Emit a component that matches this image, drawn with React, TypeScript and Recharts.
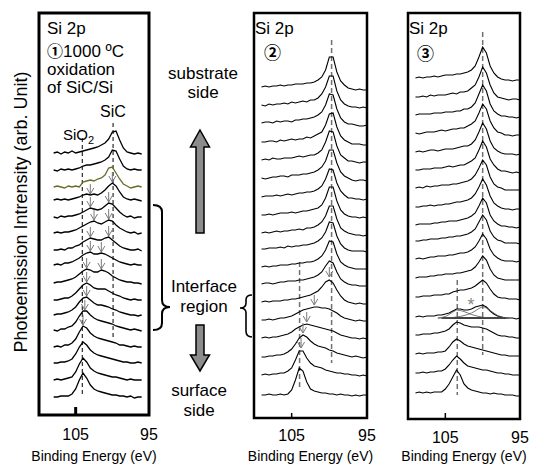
import React from 'react';
import { ComposedChart, Line, XAxis, YAxis, ReferenceLine, ReferenceArea, Scatter } from 'recharts';

const FONT = '"Liberation Sans", Arial, Helvetica, sans-serif';
const CJK = '"Noto Sans CJK JP", "Noto Sans CJK SC", sans-serif';

// ---------- Panel 1 : 1000 ºC oxidation of SiC/Si ----------
const energyP1 = [108, 107.5, 107, 106.5, 106, 105.5, 105, 104.5, 104, 103.5, 103, 102.5, 102, 101.5, 101, 100.5, 100, 99.5, 99, 98.5, 98, 97.5, 97, 96.5, 96];
const offsetP1 = [262, 245, 228, 215, 198, 182, 165, 150, 132, 115, 100, 85, 68, 52, 35, 18];
const rowsP1 = [
  [0, 1, -1, 1, 0, 2, 0, 1, 2, 3, 4, 5, 6, 8, 10, 14, 21, 22, 13, 5, 1, 0, -1, 0, -1],
  [0, -1, 1, 0, 1, 0, 1, 2, 4, 5, 5, 6, 7, 8, 10, 13, 20, 19, 11, 4, 1, 0, 1, 0, 0],
  [0, 1, 0, -1, 1, 0, 1, 0, 5, 6, 7, 6, 8, 9, 12, 19, 20, 14, 8, 3, 1, -1, 0, 1, 0],
  [0, 1, 0, 1, 0, 1, 2, 3, 5, 6, 5, 6, 5, 7, 10, 14, 17, 14, 8, 3, 1, 0, 1, 0, -1],
  [0, -1, 1, 0, 1, 1, 2, 3, 5, 7, 9, 8, 7, 8, 11, 14, 13, 9, 5, 2, 0, 1, -1, 0, 0],
  [0, 1, 0, 1, 1, 2, 3, 5, 7, 9, 11, 12, 10, 9, 11, 13, 12, 8, 5, 3, 1, 0, 1, -1, 0],
  [0, 0, 1, 0, 2, 2, 4, 5, 8, 10, 12, 11, 10, 10, 12, 13, 10, 7, 4, 2, 1, 0, 0, 1, -1],
  [0, 1, 0, 2, 2, 3, 5, 7, 10, 12, 13, 11, 11, 12, 11, 9, 7, 5, 3, 2, 1, 0, 1, 0, 0],
  [0, 1, 1, 2, 3, 4, 6, 9, 12, 14, 13, 11, 11, 13, 12, 10, 7, 5, 3, 2, 1, 1, 0, 0, -1],
  [0, 0, 1, 2, 2, 4, 7, 11, 15, 17, 15, 12, 11, 11, 11, 9, 7, 5, 4, 2, 1, 0, 1, 0, 0],
  [0, 1, 1, 2, 3, 5, 8, 13, 17, 18, 15, 12, 10, 10, 9, 8, 6, 5, 3, 2, 1, 0, 0, -1, 0],
  [0, -1, 1, 1, 3, 4, 8, 14, 19, 19, 15, 12, 10, 9, 8, 7, 6, 4, 3, 2, 1, 0, 1, 0, -1],
  [0, 1, 0, 2, 2, 4, 8, 15, 21, 19, 14, 11, 9, 8, 7, 6, 5, 4, 2, 2, 1, 0, 1, 0, 0],
  [0, 0, 1, 1, 2, 4, 9, 16, 21, 18, 13, 10, 8, 7, 6, 5, 4, 3, 2, 1, 1, 0, 0, 1, 0],
  [0, 1, 0, 1, 2, 3, 8, 16, 22, 18, 12, 9, 7, 6, 5, 4, 3, 3, 2, 1, 0, 1, 0, 0, 0],
  [0, 0, 1, 1, 1, 3, 8, 17, 24, 19, 12, 8, 6, 5, 4, 3, 2, 2, 1, 1, 0, 1, -1, 0, 0],
];
const arrowsP1 = [
  { e: 103, y: 221 }, { e: 100, y: 233 },
  { e: 103, y: 208 }, { e: 100.5, y: 213 },
  { e: 102.5, y: 195 }, { e: 100.5, y: 196 },
  { e: 103, y: 178 }, { e: 100.5, y: 179 },
  { e: 103, y: 164 }, { e: 101.5, y: 163 },
  { e: 103.5, y: 147 }, { e: 101.5, y: 146 },
  { e: 103.5, y: 133 }, { e: 103.5, y: 119 }, { e: 103.75, y: 105 }, { e: 104, y: 90 },
];

// ---------- Panels 2 and 3 ----------
const energyP23 = [109, 108.5, 108, 107.5, 107, 106.5, 106, 105.5, 105, 104.5, 104, 103.5, 103, 102.5, 102, 101.5, 101, 100.5, 100, 99.5, 99, 98.5, 98, 97.5, 97, 96.5, 96, 95.5, 95];

const offsetP2 = [331, 313, 295, 276, 258, 240, 221, 203, 185, 169, 151, 134, 116, 98, 80, 61, 43, 23];
const rowsP2 = [
  [0, 1, 0, 1, 1, 2, 1, 2, 2, 3, 3, 3, 4, 4, 5, 7, 10, 17, 30, 30, 15, 6, 2, -1, -2, -3, -2, -3, -3],
  [0, -1, 1, 0, 1, 1, 2, 1, 3, 2, 3, 4, 3, 5, 5, 7, 11, 18, 29, 29, 14, 5, 1, -1, -2, -2, -3, -2, -3],
  [0, 1, 1, 0, 2, 1, 2, 2, 1, 3, 3, 4, 4, 5, 6, 8, 11, 18, 29, 28, 14, 5, 1, -1, -1, -2, -3, -3, -2],
  [0, 0, 1, 1, 0, 2, 1, 2, 3, 2, 3, 3, 5, 4, 6, 8, 10, 17, 28, 29, 15, 6, 2, 0, -2, -2, -2, -3, -3],
  [0, 1, 0, 2, 1, 1, 2, 2, 2, 3, 4, 3, 4, 5, 5, 7, 10, 18, 29, 28, 14, 5, 2, -1, -1, -2, -3, -2, -2],
  [0, -1, 0, 1, 1, 2, 2, 1, 3, 3, 3, 4, 4, 5, 6, 8, 11, 17, 28, 28, 15, 6, 2, 0, -2, -3, -2, -2, -3],
  [0, 1, 1, 1, 2, 1, 2, 3, 2, 3, 4, 4, 5, 5, 6, 8, 11, 18, 28, 27, 14, 6, 2, -1, -1, -2, -2, -3, -2],
  [0, 0, 1, 0, 1, 2, 2, 2, 3, 2, 3, 4, 4, 5, 6, 7, 10, 17, 28, 28, 14, 5, 1, -1, -2, -2, -3, -2, -3],
  [0, 1, 0, 1, 2, 1, 2, 2, 3, 3, 4, 3, 5, 5, 6, 8, 11, 17, 27, 27, 14, 5, 2, 0, -1, -2, -2, -3, -2],
  [0, 0, 1, 1, 1, 2, 1, 3, 2, 3, 3, 4, 4, 5, 6, 8, 11, 17, 27, 26, 13, 5, 1, -1, -2, -2, -2, -2, -3],
  [0, 1, 0, 1, 1, 2, 2, 2, 3, 3, 4, 4, 5, 5, 6, 8, 11, 17, 26, 25, 13, 5, 2, 0, -1, -2, -2, -2, -2],
  [0, 1, 1, 0, 1, 2, 2, 3, 3, 3, 4, 4, 5, 6, 7, 9, 12, 18, 23, 21, 12, 5, 2, 0, -1, -1, -2, -2, -2],
  [0, 1, 0, 1, 1, 1, 2, 2, 3, 3, 4, 5, 6, 7, 9, 11, 15, 20, 22, 19, 12, 6, 2, 0, -1, -2, -1, -2, -2],
  [0, 0, 1, 0, 1, 2, 2, 3, 4, 6, 8, 10, 11, 12, 13, 13, 12, 12, 11, 9, 7, 4, 2, 1, 0, -1, 0, -1, -1],
  [0, 1, 0, 1, 1, 2, 3, 4, 6, 9, 11, 13, 14, 13, 12, 11, 10, 9, 8, 7, 5, 3, 2, 1, 0, 0, -1, 0, -1],
  [0, 0, 1, 1, 2, 2, 3, 5, 8, 13, 19, 22, 20, 16, 13, 11, 10, 9, 7, 6, 4, 3, 2, 1, 0, 1, 0, -1, 0],
  [0, 1, 0, 1, 1, 2, 2, 4, 7, 15, 24, 24, 17, 12, 9, 8, 7, 5, 4, 3, 2, 2, 1, 1, 0, 0, -1, 0, -1],
  [0, 0, 1, 0, 0, 1, 0, 1, 5, 15, 27, 24, 13, 6, 4, 3, 2, 2, 1, 1, 0, 1, 0, 0, -1, 0, -1, 0, 0],
];
const arrowsP2 = [
  { e: 100, y: 141 }, { e: 102, y: 113 }, { e: 103, y: 96 }, { e: 103.5, y: 85 }, { e: 103.75, y: 70 },
];

const offsetP3 = [341, 322, 304, 286, 267, 249, 231, 212, 194, 178, 160, 141, 122, 102, 84, 65, 46, 26];
const rowsP3 = [
  [0, 1, 0, 1, 1, 2, 1, 2, 3, 3, 3, 4, 4, 5, 6, 8, 12, 21, 31, 25, 12, 5, 1, -1, -2, -2, -3, -2, -2],
  [0, 0, 1, 0, 2, 1, 2, 2, 2, 3, 4, 3, 5, 5, 6, 9, 12, 20, 30, 24, 12, 4, 0, -1, -2, -3, -2, -2, -3],
  [0, 1, 1, 1, 1, 2, 2, 2, 3, 3, 3, 4, 4, 6, 6, 8, 12, 21, 30, 24, 11, 4, 1, -1, -1, -2, -2, -3, -2],
  [0, -1, 0, 1, 1, 1, 2, 3, 2, 3, 4, 4, 5, 5, 7, 9, 12, 20, 29, 24, 12, 5, 1, 0, -2, -2, -3, -2, -2],
  [0, 1, 0, 1, 2, 2, 1, 2, 3, 3, 3, 4, 5, 6, 6, 8, 12, 20, 29, 23, 11, 4, 1, -1, -2, -2, -2, -3, -2],
  [0, 0, 1, 1, 1, 2, 2, 2, 3, 4, 3, 4, 5, 5, 7, 9, 12, 20, 29, 23, 11, 5, 1, -1, -1, -2, -3, -2, -3],
  [0, 1, 0, 2, 1, 2, 2, 3, 3, 3, 4, 4, 5, 6, 7, 9, 13, 20, 28, 23, 11, 4, 1, 0, -2, -2, -2, -2, -2],
  [0, 0, 1, 1, 2, 1, 2, 2, 3, 3, 4, 5, 5, 6, 7, 9, 13, 20, 28, 22, 11, 4, 1, -1, -2, -2, -3, -2, -2],
  [0, 1, 1, 1, 1, 2, 2, 3, 3, 4, 4, 4, 5, 6, 7, 9, 12, 19, 27, 22, 10, 4, 1, -1, -1, -2, -2, -3, -2],
  [0, 0, 1, 1, 2, 2, 2, 3, 3, 4, 4, 5, 5, 6, 7, 9, 12, 19, 26, 21, 10, 4, 1, 0, -2, -2, -2, -2, -3],
  [0, 1, 0, 1, 2, 2, 3, 3, 3, 4, 4, 5, 6, 6, 7, 9, 12, 18, 25, 20, 10, 4, 1, -1, -2, -2, -2, -3, -2],
  [0, 1, 1, 1, 2, 2, 3, 3, 4, 4, 4, 5, 5, 6, 7, 8, 11, 16, 22, 18, 9, 3, 0, -1, -2, -2, -2, -2, -2],
  [0, 0, 1, 1, 1, 2, 2, 2, 3, 3, 5, 6, 7, 7, 8, 9, 11, 14, 17, 14, 8, 3, 0, -1, -1, -2, -2, -2, -3],
  [0, 1, 0, 1, 1, 1, 2, 2, 3, 4, 6, 8, 8, 7, 7, 8, 10, 11, 12, 10, 6, 3, 1, 0, -1, -1, -1, -2, -1],
  [0, 0, 1, 1, 1, 2, 2, 3, 4, 6, 10, 13, 12, 10, 9, 8, 8, 8, 7, 6, 4, 2, 0, -1, -1, -2, -2, -3, -3],
  [0, 1, 0, 1, 1, 1, 2, 2, 3, 7, 12, 15, 13, 10, 8, 7, 6, 5, 4, 3, 2, 1, 0, -1, -1, -2, -2, -2, -2],
  [0, 0, 1, 0, 1, 1, 2, 2, 4, 8, 13, 17, 14, 10, 7, 6, 5, 4, 3, 3, 2, 1, 0, 0, -1, -1, -2, -2, -2],
  [0, 1, 0, 1, 0, 1, 1, 1, 4, 9, 16, 23, 18, 9, 5, 3, 2, 1, 0, 0, -1, 0, -1, -1, -2, -2, -2, -3, -3],
];

// peak-fit components drawn on the interface spectrum of panel 3
const fitEnergy = [106, 105.5, 105, 104.5, 104, 103.5, 103, 102.5, 102, 101.5, 101, 100.5, 100, 99.5, 99, 98.5, 98, 97.5, 97, 96.5];
const fitLevel = 101;
const fitSiO2 = [0, 0.5, 1.5, 3.5, 6, 8, 7.5, 6.5, 5, 3.5, 2.5, 1.5, 0.8, 0.3, 0, 0, 0, 0, 0, 0];
const fitSiC = [0, 0, 0, 0, 0.5, 1, 1.5, 2.5, 3.5, 5, 7, 9.5, 11.5, 10, 7.5, 5, 2.5, 1, 0.3, 0];
const fitBaseEnergy = [105.5, 96.9];

const xTicks = [105, 95];

const toSeries = (energies: number[], offset: number, vals: number[]) =>
  energies.map((e, k) => ({ e, y: offset + vals[k] }));

const ArrowMark = (props: any) => {
  const { cx, cy } = props;
  if (cx == null || cy == null) return null;
  return (
    <path
      d={`M${cx},${cy - 10}L${cx},${cy}M${cx - 3.5},${cy - 6}L${cx},${cy}L${cx + 3.5},${cy - 6}`}
      stroke="#7a7a7a"
      strokeWidth={1}
      fill="none"
    />
  );
};

type PanelProps = {
  width: number;
  marginLeft: number;
  marginRight: number;
  axisHeight: number;
  plotHeight: number;
  tickMargin: number;
  frameWidth: number;
  children: React.ReactNode;
};

function Panel({ width, marginLeft, marginRight, axisHeight, plotHeight, tickMargin, frameWidth, children }: PanelProps) {
  return (
    <ComposedChart
      width={width}
      height={466}
      margin={{ top: 13, right: marginRight, bottom: 0, left: marginLeft }}
    >
      <XAxis
        type="number"
        dataKey="e"
        domain={[95, 110]}
        reversed
        ticks={xTicks}
        interval={0}
        tickLine={false}
        axisLine={false}
        tickSize={0}
        tickMargin={tickMargin}
        height={axisHeight}
        tick={{ fontSize: 16, fill: '#000', fontFamily: FONT }}
        label={{ value: 'Binding Energy (eV)', position: 'insideBottom', offset: 5, fontSize: 14, fill: '#000', fontFamily: FONT }}
      />
      <YAxis type="number" dataKey="y" domain={[0, plotHeight]} hide />
      {children}
      <ReferenceArea x1={95} x2={110} y1={0} y2={plotHeight} fill="none" fillOpacity={0} stroke="#000" strokeWidth={frameWidth} ifOverflow="visible" />
    </ComposedChart>
  );
}

function Panel1() {
  return (
    <Panel width={170} marginLeft={39} marginRight={21} axisHeight={51} plotHeight={402} tickMargin={14} frameWidth={3}>
      <ReferenceLine segment={[{ x: 104.1, y: 277 }, { x: 104.1, y: 18 }]} stroke="#000" strokeWidth={1} strokeDasharray="4 3" ifOverflow="visible" />
      <ReferenceLine segment={[{ x: 99.9, y: 292 }, { x: 99.9, y: 77 }]} stroke="#000" strokeWidth={1} strokeDasharray="4 3" ifOverflow="visible" />
      <ReferenceLine segment={[{ x: 105, y: 0 }, { x: 105, y: 8 }]} stroke="#000" strokeWidth={3} ifOverflow="visible" />
      {rowsP1.map((vals, i) => (
        <Line
          key={`p1-${i}`}
          data={toSeries(energyP1, offsetP1[i], vals)}
          dataKey="y"
          type="linear"
          stroke={i === 2 ? '#6b6a2a' : '#000'}
          strokeWidth={1.3}
          dot={false}
          activeDot={false}
          isAnimationActive={false}
        />
      ))}
      <Scatter data={arrowsP1} dataKey="y" shape={<ArrowMark />} isAnimationActive={false} />
    </Panel>
  );
}

function Panel2() {
  return (
    <Panel width={154} marginLeft={20} marginRight={21} axisHeight={48} plotHeight={405} tickMargin={12} frameWidth={2.5}>
      <ReferenceLine segment={[{ x: 99.7, y: 378 }, { x: 99.7, y: 55 }]} stroke="#707070" strokeWidth={1.5} strokeDasharray="5 3" ifOverflow="visible" />
      <ReferenceLine segment={[{ x: 103.95, y: 156 }, { x: 103.95, y: 31 }]} stroke="#707070" strokeWidth={1.5} strokeDasharray="5 3" ifOverflow="visible" />
      <ReferenceLine segment={[{ x: 105, y: 0 }, { x: 105, y: 5 }]} stroke="#000" strokeWidth={1.5} ifOverflow="visible" />
      {rowsP2.map((vals, i) => (
        <Line
          key={`p2-${i}`}
          data={toSeries(energyP23, offsetP2[i], vals)}
          dataKey="y"
          type="linear"
          stroke="#000"
          strokeWidth={1.1}
          dot={false}
          activeDot={false}
          isAnimationActive={false}
        />
      ))}
      <Scatter data={arrowsP2} dataKey="y" shape={<ArrowMark />} isAnimationActive={false} />
    </Panel>
  );
}

function Panel3() {
  return (
    <Panel width={146} marginLeft={20} marginRight={14} axisHeight={47} plotHeight={406} tickMargin={13} frameWidth={2.5}>
      <ReferenceLine segment={[{ x: 100, y: 387 }, { x: 100, y: 64 }]} stroke="#707070" strokeWidth={1.5} strokeDasharray="5 3" ifOverflow="visible" />
      <ReferenceLine segment={[{ x: 103.4, y: 139 }, { x: 103.4, y: 24 }]} stroke="#707070" strokeWidth={1.5} strokeDasharray="5 3" ifOverflow="visible" />
      <ReferenceLine segment={[{ x: 105, y: 0 }, { x: 105, y: 6 }]} stroke="#000" strokeWidth={1.5} ifOverflow="visible" />
      {rowsP3.map((vals, i) => (
        <Line
          key={`p3-${i}`}
          data={toSeries(energyP23, offsetP3[i], vals)}
          dataKey="y"
          type="linear"
          stroke="#000"
          strokeWidth={1.1}
          dot={false}
          activeDot={false}
          isAnimationActive={false}
        />
      ))}
      <Line data={fitBaseEnergy.map((e) => ({ e, y: fitLevel }))} dataKey="y" type="linear" stroke="#000" strokeWidth={1.6} dot={false} activeDot={false} isAnimationActive={false} />
      <Line data={toSeries(fitEnergy, fitLevel, fitSiO2)} dataKey="y" type="linear" stroke="#555" strokeWidth={0.8} dot={false} activeDot={false} isAnimationActive={false} />
      <Line data={toSeries(fitEnergy, fitLevel, fitSiC)} dataKey="y" type="linear" stroke="#555" strokeWidth={0.8} dot={false} activeDot={false} isAnimationActive={false} />
    </Panel>
  );
}

export default function App() {
  return (
    <div style={{ position: 'absolute', left: 0, top: 0, width: 534, height: 466, overflow: 'hidden', background: '#fff', fontFamily: FONT }}>
      <div style={{ position: 'absolute', left: 0, top: 0 }}><Panel1 /></div>
      <div style={{ position: 'absolute', left: 234, top: 0 }}><Panel2 /></div>
      <div style={{ position: 'absolute', left: 388, top: 0 }}><Panel3 /></div>
      <svg style={{ position: 'absolute', left: 0, top: 0, pointerEvents: 'none' }} width={534} height={466} fontFamily={FONT}>
        <text x={27} y={212} transform="rotate(-90 27 212)" textAnchor="middle" fontSize={18} fill="#000">Photoemission Intrensity (arb. Unit)</text>

        <text x={47} y={33.5} fontSize={17} fill="#000">Si 2p</text>
        <text x={47} y={56.5} fontSize={17} fill="#000"><tspan fontFamily={CJK} fontSize={16} fontWeight={700}>①</tspan>1000 ºC</text>
        <text x={47} y={74.5} fontSize={17} fill="#000">oxidation</text>
        <text x={47} y={92.5} fontSize={17} fill="#000">of SiC/Si</text>
        <text x={113} y={117} textAnchor="middle" fontSize={16} fill="#000">SiC</text>
        <text x={63} y={140} fontSize={15} fill="#000">SiO<tspan fontSize={11} dy={4}>2</tspan></text>

        <text x={255} y={34} fontSize={17} fill="#000">Si 2p</text>
        <text x={264} y={59} fontSize={17} fontWeight={700} fill="#000" fontFamily={CJK}>②</text>
        <text x={409} y={34} fontSize={17} fill="#000">Si 2p</text>
        <text x={417} y={60} fontSize={17} fontWeight={700} fill="#000" fontFamily={CJK}>③</text>
        <text x={471} y={311} textAnchor="middle" fontSize={18} fill="#888">*</text>

        <text x={203} y={79} textAnchor="middle" fontSize={17} fill="#000">substrate</text>
        <text x={203} y={98} textAnchor="middle" fontSize={17} fill="#000">side</text>
        <polygon points="200,130 209.5,147 204,147 204,233 196,233 196,147 190.5,147" fill="#8c8c8c" stroke="#000" strokeWidth={1.5} strokeLinejoin="miter" />

        <text x={204} y={292} textAnchor="middle" fontSize={17} fill="#000">Interface</text>
        <text x={204} y={312} textAnchor="middle" fontSize={17} fill="#000">region</text>
        <polygon points="196,325 204,325 204,355 209.5,355 200,371 190.5,355 196,355" fill="#8c8c8c" stroke="#000" strokeWidth={1.5} />

        <text x={199} y={396} textAnchor="middle" fontSize={17} fill="#000">surface</text>
        <text x={199} y={416} textAnchor="middle" fontSize={17} fill="#000">side</text>

        <path d="M153,205 Q162,205 162,212 L162,300 Q162,307 170,307 Q162,307 162,314 L162,323 Q162,330 153,330" fill="none" stroke="#000" strokeWidth={2} />
        <path d="M252,295 Q246,295 246,300 L246,303 Q246,308 240,308 Q246,308 246,313 L246,331 Q246,337 252,337" fill="none" stroke="#000" strokeWidth={1.6} />
      </svg>
    </div>
  );
}
